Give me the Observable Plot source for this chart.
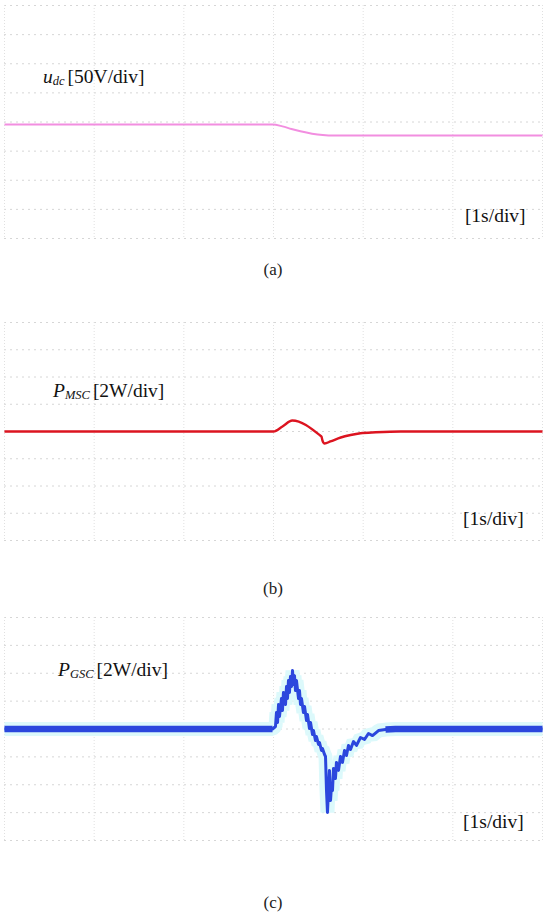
<!DOCTYPE html>
<html><head><meta charset="utf-8">
<script src="https://cdn.jsdelivr.net/npm/d3@7"></script>
<script src="https://cdn.jsdelivr.net/npm/@observablehq/plot@0.6"></script>
<style>
html,body{margin:0;padding:0;background:#fff;}
#root{position:relative;width:550px;height:916px;overflow:hidden;font-family:"Liberation Serif",serif;}
.cap{position:absolute;left:-2px;width:550px;text-align:center;font-size:17px;line-height:20px;color:#222;font-family:"Liberation Serif",serif;}
</style></head><body><div id="root"></div>
<script>
// ---- grid (divisions) ----
const timeDivs = [0, 1, 2, 3, 4, 5, 6];               // s, 1 s/div
const udcDivs = [-200, -150, -100, -50, 0, 50, 100, 150, 200]; // V, 50 V/div
const powerDivs = [-8, -6, -4, -2, 0, 2, 4, 6, 8];     // W, 2 W/div

// ---- (a) DC-link voltage (relative to screen centre, V) ----
const udcTime  = [0, 2.99, 3.1, 3.2, 3.3, 3.43, 3.55, 3.67, 6];
const udcValue = [-4.3, -4.3, -7.5, -12, -16, -20, -22.3, -23.2, -23.2];

// ---- (b) MSC power (W) ----
const pmscTime  = [0, 3.0, 3.1, 3.21, 3.52, 3.535, 3.546, 3.57, 3.635, 3.75, 3.86, 3.97, 4.14, 4.42, 6];
const pmscValue = [0, 0, 0.37, 0.81, -0.29, -0.37, -0.66, -0.88, -0.73, -0.44, -0.26, -0.13, -0.06, 0, 0];

// ---- (c) GSC power (W) ----
const pgscTime = [0, 2.989, 3.022, 3.033, 3.045, 3.056, 3.067, 3.089, 3.100, 3.111, 3.134, 3.145, 3.156, 3.167,
  3.178, 3.189, 3.201, 3.212, 3.223, 3.234, 3.245, 3.256, 3.279, 3.290, 3.301, 3.312, 3.334, 3.346, 3.368,
  3.379, 3.401, 3.413, 3.435, 3.446, 3.468, 3.479, 3.502, 3.513, 3.535, 3.546, 3.569, 3.580, 3.591, 3.602,
  3.613, 3.624, 3.636, 3.647, 3.658, 3.669, 3.691, 3.702, 3.725, 3.747, 3.769, 3.792, 3.814, 3.836, 3.859,
  3.892, 3.926, 3.970, 4.015, 4.059, 4.104, 4.171, 4.249, 4.360, 6];
const pgscValue = [0, 0, 0.18, 1.18, 0.47, 1.76, 0.90, 2.19, 1.33, 2.62, 1.76, 3.05, 2.19, 3.48,
  2.62, 3.76, 3.05, 4.19, 3.19, 3.83, 2.76, 3.48, 2.19, 2.76, 1.76, 2.19, 1.18, 1.61, 0.61,
  1.04, 0.04, 0.47, -0.39, -0.11, -0.82, -0.54, -1.11, -0.97, -1.54, -1.40, -1.83, -1.97, -4.41, -5.99,
  -4.41, -2.97, -5.13, -4.05, -4.41, -2.83, -3.55, -2.40, -2.97, -1.97, -2.40, -1.54, -1.90, -1.18, -1.47,
  -0.90, -1.18, -0.61, -0.75, -0.32, -0.47, -0.11, -0.04, 0, 0];

// ---- texts ----
const captions = ["(a)", "(b)", "(c)"];
const timeLabel = "[1s/div]";
const signalNames = [["u", "dc", "[50V/div]"], ["P", "MSC", "[2W/div]"], ["P", "GSC", "[2W/div]"]];

const toRows = (t, v) => t.map((x, i) => ({t: x, v: v[i]}));
const udc = toRows(udcTime, udcValue);
const pmsc = toRows(pmscTime, pmscValue);
const pgsc = toRows(pgscTime, pgscValue);

const root = document.getElementById("root");

function gridMarks(yDivs) {
  return [
    Plot.ruleY(yDivs, {stroke: "#d6d6d6", strokeWidth: 1, strokeDasharray: "2,4"}),
    Plot.ruleX(timeDivs, {stroke: "#e0e0e0", strokeWidth: 1, strokeDasharray: "1,2"})
  ];
}

function addLabels(plot, name, lx, ly, tx, ty) {
  const sx = plot.scale("x"), sy = plot.scale("y");
  const svg = d3.select(plot);
  const t = svg.append("text")
    .attr("x", sx.apply(lx)).attr("y", sy.apply(ly))
    .attr("text-anchor", "start")
    .attr("font-family", "Liberation Serif, serif").attr("font-size", 19.5).attr("fill", "#111");
  t.append("tspan").attr("font-style", "italic").text(name[0]);
  t.append("tspan").attr("font-style", "italic").attr("font-size", 12.5).attr("dy", 2).text(name[1]);
  t.append("tspan").attr("dy", -2).attr("dx", 3).text(name[2]);
  svg.append("text")
    .attr("x", sx.apply(tx)).attr("y", sy.apply(ty))
    .attr("text-anchor", "start")
    .attr("font-family", "Liberation Serif, serif").attr("font-size", 19.5).attr("fill", "#111")
    .text(timeLabel);
}

function place(el, top) {
  el.style.position = "absolute";
  el.style.top = top + "px";
  el.style.left = "0px";
  root.appendChild(el);
}

// ---- panel (a) ----
const pa = Plot.plot({
  width: 550, height: 250, marginTop: 5, marginBottom: 12, marginLeft: 4, marginRight: 8,
  style: {background: "white", overflow: "visible"},
  x: {domain: [0, 6], axis: null},
  y: {domain: [-200, 200], axis: null},
  marks: [
    ...gridMarks(udcDivs),
    Plot.line(udc, {x: "t", y: "v", stroke: "#f28ee0", strokeWidth: 2, strokeLinecap: "butt", curve: "monotone-x"})
  ]
});
place(pa, 0);
addLabels(pa, signalNames[0], 0.435, 66, 5.14, -172.5);

// ---- panel (b) ----
const pb = Plot.plot({
  width: 550, height: 250, marginTop: 22, marginBottom: 10, marginLeft: 4, marginRight: 8,
  style: {background: "white", overflow: "visible"},
  x: {domain: [0, 6], axis: null},
  y: {domain: [-8, 8], axis: null},
  marks: [
    ...gridMarks(powerDivs),
    Plot.line(pmsc, {x: "t", y: "v", stroke: "#dc1420", strokeWidth: 2.4, strokeLinecap: "butt", curve: "monotone-x"})
  ]
});
place(pb, 300);
addLabels(pb, signalNames[1], 0.546, 2.5, 5.12, -6.9);

// ---- panel (c) ----
const pc = Plot.plot({
  width: 550, height: 250, marginTop: 17, marginBottom: 10, marginLeft: 4, marginRight: 8,
  style: {background: "white", overflow: "visible"},
  x: {domain: [0, 6], axis: null},
  y: {domain: [-8, 8], axis: null},
  marks: [
    ...gridMarks(powerDivs),
    Plot.line(pgsc, {x: "t", y: "v", stroke: "#dcf9fb", strokeWidth: 14, strokeLinejoin: "bevel", strokeLinecap: "butt"}),
    Plot.line(pgsc, {x: "t", y: "v", stroke: "#2b47dd", strokeWidth: 3, strokeLinecap: "butt"}),
    Plot.line(pgsc, {filter: d => d.t <= 3.0 || d.t >= 4.2, z: d => d.t <= 3.0 ? "pre" : "post",
      x: "t", y: "v", stroke: "#2b47dd", strokeWidth: 6.5, strokeLinecap: "butt"})
  ]
});
place(pc, 600);
addLabels(pc, signalNames[2], 0.602, 3.77, 5.12, -7.14);

// ---- captions ----
const capTops = [260, 579, 893];
captions.forEach((c, i) => {
  const d = document.createElement("div");
  d.className = "cap";
  d.textContent = c;
  d.style.top = capTops[i] + "px";
  root.appendChild(d);
});
</script>
</body></html>
